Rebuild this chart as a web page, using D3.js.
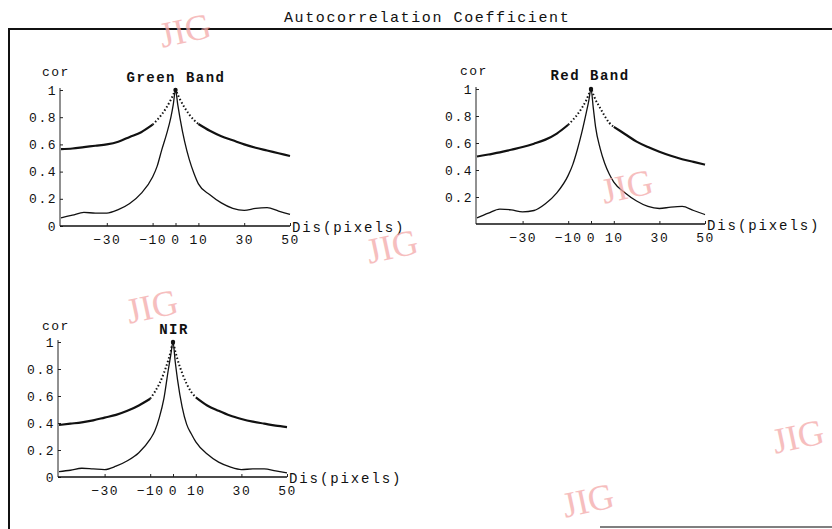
<!DOCTYPE html>
<html>
<head>
<meta charset="utf-8">
<script src="https://cdn.jsdelivr.net/npm/d3@7"></script>
<style>
  body { margin: 0; background: #fff; }
  text { font-family: "Liberation Mono", "DejaVu Sans Mono", monospace; fill: #111; }
</style>
</head>
<body>
<div id="chart-container"></div>
<script>
// lag values (pixels) shared by all three bands
const lags = [-50,-45,-40,-35,-30,-25,-20,-15,-10,-8,-6,-4,-2,-1,0,1,2,4,6,8,10,15,20,25,30,35,40,45,50];

// upper curve (thick, dotted near 0) and lower curve (thin) per band
const greenUpper = [0.565,0.57,0.58,0.59,0.60,0.62,0.655,0.69,0.745,0.78,0.82,0.87,0.93,0.965,1,0.965,0.93,0.87,0.82,0.78,0.75,0.70,0.66,0.63,0.60,0.575,0.555,0.535,0.515];
const greenLower = [0.06,0.08,0.10,0.095,0.095,0.12,0.165,0.24,0.36,0.44,0.56,0.67,0.80,0.89,1,0.89,0.79,0.62,0.49,0.39,0.31,0.23,0.17,0.13,0.115,0.13,0.135,0.11,0.085];
const redUpper = [0.50,0.515,0.53,0.55,0.57,0.595,0.625,0.67,0.735,0.77,0.81,0.86,0.92,0.96,1,0.96,0.92,0.86,0.80,0.75,0.72,0.665,0.61,0.57,0.535,0.505,0.48,0.46,0.44];
const redLower = [0.045,0.08,0.11,0.105,0.09,0.10,0.15,0.23,0.36,0.44,0.55,0.68,0.83,0.91,1,0.86,0.72,0.56,0.45,0.37,0.31,0.23,0.17,0.13,0.115,0.125,0.13,0.10,0.07];
const nirUpper = [0.385,0.395,0.405,0.42,0.44,0.46,0.49,0.53,0.58,0.63,0.69,0.77,0.87,0.93,1,0.93,0.87,0.77,0.69,0.63,0.59,0.53,0.49,0.455,0.43,0.41,0.395,0.38,0.37];
const nirLower = [0.04,0.05,0.065,0.06,0.055,0.08,0.12,0.18,0.28,0.34,0.44,0.58,0.80,0.90,1,0.85,0.72,0.52,0.39,0.32,0.26,0.17,0.11,0.075,0.055,0.06,0.06,0.045,0.03];

// tick labels
const xTicks = [-30,-10,0,10,30,50];
const yTicksFull = [0,0.2,0.4,0.6,0.8,1];
const yTicksRed = [0.2,0.4,0.6,0.8,1];

const W = 832, H = 529;

const svg = d3.select("#chart-container")
  .append("svg")
  .attr("width", W)
  .attr("height", H);

// outer frame
svg.append("path")
  .attr("d", `M9,${H+5} L9,29 L${W+5},29`)
  .attr("fill", "none")
  .attr("stroke", "#111")
  .attr("stroke-width", 2);
svg.append("line")
  .attr("x1", 600).attr("x2", W).attr("y1", 527).attr("y2", 527)
  .attr("stroke", "#555").attr("stroke-width", 1.5);

svg.append("text")
  .attr("x", 284)
  .attr("y", 22)
  .style("font-size", "15px")
  .style("letter-spacing", "1.6px")
  .text("Autocorrelation Coefficient");

const panels = [
  {title: "Green Band", upper: greenUpper, lower: greenLower, yTicks: yTicksFull,
   x0: 61, x1: 290, yTop: 90, yBot: 226, titleX: 176, titleY: 82, corX: 42, corY: 76},
  {title: "Red Band", upper: redUpper, lower: redLower, yTicks: yTicksRed,
   x0: 477, x1: 705, yTop: 89, yBot: 224, titleX: 590, titleY: 80, corX: 460, corY: 75},
  {title: "NIR", upper: nirUpper, lower: nirLower, yTicks: yTicksFull,
   x0: 59, x1: 287, yTop: 342, yBot: 477, titleX: 174, titleY: 334, corX: 42, corY: 330}
];

panels.forEach(p => {
  const x = d3.scaleLinear().domain([-50, 50]).range([p.x0, p.x1]);
  const y = d3.scaleLinear().domain([0, 1]).range([p.yBot, p.yTop]);
  const g = svg.append("g");

  // y axis
  g.append("g")
    .attr("transform", `translate(${p.x0 - 1},0)`)
    .style("font-size", "13px")
    .style("letter-spacing", "1.5px")
    .call(d3.axisLeft(y).tickValues(p.yTicks).tickFormat(d => d === 0 || d === 1 ? d : d3.format(".1f")(d))
      .tickSize(-3).tickPadding(3))
    .call(a => a.select(".domain").attr("stroke", "#222").attr("d", `M0,${p.yBot}V${p.yTop - 2}`))
    .call(a => a.selectAll(".tick line").attr("stroke", "#222"))
    .call(a => a.selectAll(".tick text").attr("fill", "#111").attr("font-family", null));

  // x axis
  g.append("g")
    .attr("transform", `translate(0,${p.yBot})`)
    .style("font-size", "13px")
    .style("letter-spacing", "1.5px")
    .call(d3.axisBottom(x).tickValues(xTicks).tickSize(-3).tickPadding(9))
    .call(a => a.select(".domain").attr("stroke", "#111").attr("stroke-width", 1.6).attr("d", `M${p.x0 - 1},0H${p.x1}`))
    .call(a => a.selectAll(".tick line").attr("stroke", "#222"))
    .call(a => a.selectAll(".tick text").attr("fill", "#111").attr("font-family", null));

  g.append("text")
    .attr("x", p.corX).attr("y", p.corY)
    .style("font-size", "13px")
    .style("letter-spacing", "1.5px")
    .text("cor");

  g.append("text")
    .attr("x", p.x1 + 2).attr("y", p.yBot + 6)
    .style("font-size", "14px")
    .style("letter-spacing", "1.9px")
    .text("Dis(pixels)");

  g.append("text")
    .attr("x", p.titleX).attr("y", p.titleY)
    .attr("text-anchor", "middle")
    .style("font-size", "14px")
    .style("font-weight", "bold")
    .style("letter-spacing", "1.5px")
    .text(p.title);

  const pts = s => lags.map((d, i) => ({lag: d, v: s[i]}));
  const line = d3.line().x(d => x(d.lag)).y(d => y(d.v)).curve(d3.curveMonotoneX);

  const up = pts(p.upper);
  g.append("path").datum(up.filter(d => d.lag <= -10))
    .attr("d", line).attr("fill", "none").attr("stroke", "#111").attr("stroke-width", 2.2);
  g.append("path").datum(up.filter(d => d.lag >= 10))
    .attr("d", line).attr("fill", "none").attr("stroke", "#111").attr("stroke-width", 2.2);
  g.append("path").datum(up.filter(d => d.lag >= -10 && d.lag <= 10))
    .attr("d", line).attr("fill", "none").attr("stroke", "#111").attr("stroke-width", 2)
    .attr("stroke-dasharray", "1.5,2.2");

  g.append("path").datum(pts(p.lower))
    .attr("d", line).attr("fill", "none").attr("stroke", "#111").attr("stroke-width", 1.3);

  g.append("circle")
    .attr("cx", x(0)).attr("cy", y(1)).attr("r", 2.2).attr("fill", "#111");
});

// "JIG" watermarks
const marks = [[185, 30], [392, 246], [627, 186], [152, 306], [588, 500], [798, 436]];
svg.selectAll(".wm")
  .data(marks)
  .join("text")
  .attr("class", "wm")
  .attr("transform", d => `translate(${d[0]},${d[1]}) rotate(-12)`)
  .attr("text-anchor", "middle")
  .attr("dy", "0.35em")
  .style("font-family", "'Liberation Serif', serif")
  .style("font-size", "36px")
  .style("fill", "#f4a9a9")
  .style("opacity", 0.75)
  .text("JIG");
</script>
</body>
</html>
